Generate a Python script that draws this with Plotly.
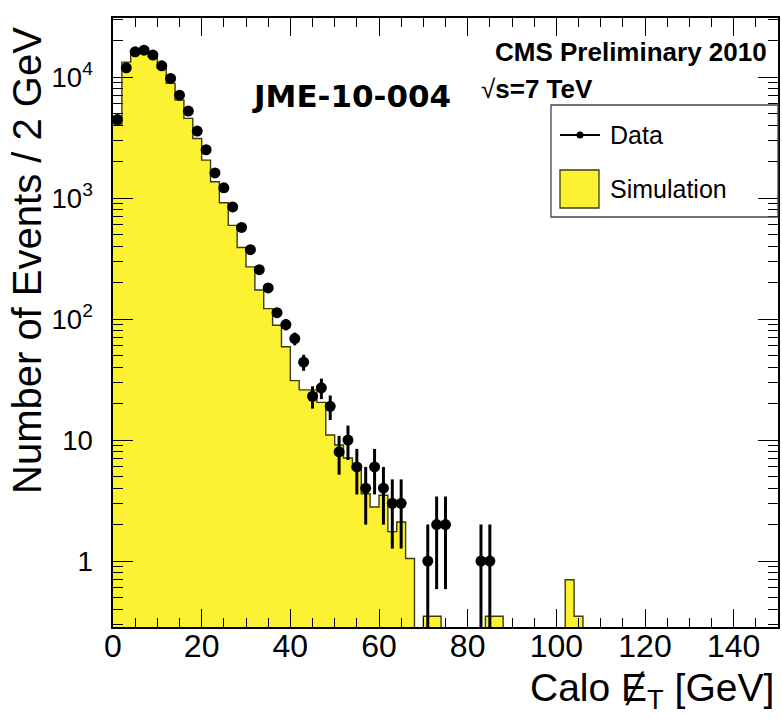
import numpy as np
import plotly.graph_objects as go

BIN_WIDTH = 2.0  # GeV per bin, first bin starts at 0

# Observed events per 2 GeV bin (bins 0-2, 2-4, ... ; trailing bins are empty)
data_counts = [4470, 11940, 16170, 16700, 15200, 12400, 9750, 7090, 5240, 3580,
               2510, 1615, 1215, 845, 572, 375, 256, 181, 113, 90,
               69, 44, 23, 27, 19, 8, 10, 6, 4, 6,
               4, 3, 3, 0, 0, 1, 2, 2, 0, 0,
               0, 1, 1]

# Simulated expectation per 2 GeV bin, normalised to data
sim_counts = [4100, 13300, 15800, 16400, 14700, 11800, 8870, 6460, 4560, 3110,
              2060, 1365, 915, 595, 391, 270, 174, 122, 89, 59,
              31, 26, 26, 20.5, 11, 9.1, 7.1, 5.8, 3.6, 2.8,
              3.5, 1.75, 2.1, 1.05, 0, 0.35, 0.35, 0, 0, 0,
              0, 0, 0.35, 0.35, 0, 0, 0, 0, 0, 0,
              0, 0.7, 0.35]

x_tick_vals = [0, 20, 40, 60, 80, 100, 120, 140]

X_MAX = 150.0
n_bins = int(X_MAX / BIN_WIDTH)
edges = np.arange(n_bins + 1) * BIN_WIDTH
centers = edges[:-1] + BIN_WIDTH / 2


def pad(values):
    out = np.zeros(n_bins)
    out[:len(values)] = values
    return out


sim = pad(sim_counts)
dat = pad(data_counts)

YELLOW = "#fdf232"
OUTLINE = "#3c3c10"
FONT = "Liberation Sans, Arial, Helvetica, sans-serif"

W, H = 782, 719
L, R, T, B = 113, 778, 18, 627


def px(xp):
    return (xp - L) / (R - L)


def py(yp):
    return (B - yp) / (B - T)


fig = go.Figure()

# Simulation: filled histogram
has_sim = sim > 0
fig.add_bar(x=centers[has_sim], y=sim[has_sim], width=BIN_WIDTH,
            marker=dict(color=YELLOW, line=dict(width=0)),
            showlegend=False, hoverinfo="skip")

# Simulation: step outline (empty bins drop below the visible range)
floor = 1e-3
sim_line = np.where(sim > 0, sim, floor)
fig.add_scatter(x=list(edges), y=list(sim_line) + [sim_line[-1]],
                mode="lines", line=dict(color=OUTLINE, width=1.4, shape="hv"),
                showlegend=False, hoverinfo="skip")

# Data points with Poisson errors
has_dat = dat > 0
n = dat[has_dat]
err = np.sqrt(n)
fig.add_scatter(x=centers[has_dat], y=n, mode="markers",
                marker=dict(color="black", size=11),
                error_y=dict(type="data", symmetric=False, array=err,
                             arrayminus=np.minimum(err, n * 0.999),
                             thickness=3, width=0, color="black"),
                showlegend=False)

shapes = [
    # legend box
    dict(type="rect", xref="paper", yref="paper",
         x0=px(551), x1=px(778), y0=py(217), y1=py(105),
         line=dict(color="#444444", width=1.3)),
    # Data entry: line with dot
    dict(type="line", xref="paper", yref="paper",
         x0=px(560), x1=px(600), y0=py(135), y1=py(135),
         line=dict(color="black", width=2)),
    dict(type="circle", xref="paper", yref="paper",
         x0=px(576.5), x1=px(583.5), y0=py(138.5), y1=py(131.5),
         fillcolor="black", line=dict(color="black", width=0)),
    # Simulation entry: filled box
    dict(type="rect", xref="paper", yref="paper",
         x0=px(560), x1=px(599), y0=py(208), y1=py(170),
         fillcolor=YELLOW, line=dict(color=OUTLINE, width=1.3)),
]

annotations = [
    dict(text="Data", x=px(608), y=py(135), xanchor="left", yanchor="middle",
         font=dict(family=FONT, size=25, color="black")),
    dict(text="Simulation", x=px(608), y=py(189), xanchor="left", yanchor="middle",
         font=dict(family=FONT, size=25, color="black")),
    dict(text="<b>CMS Preliminary 2010</b>", x=px(769), y=py(52),
         xanchor="right", yanchor="middle",
         font=dict(family=FONT, size=26, color="black")),
    dict(text="√<b>s=7 TeV</b>", x=px(479), y=py(89),
         xanchor="left", yanchor="middle",
         font=dict(family=FONT, size=26, color="black")),
    dict(text="<b>JME-10-004</b>", x=px(351), y=py(96),
         xanchor="center", yanchor="middle",
         font=dict(family="DejaVu Sans, sans-serif", size=31, color="black")),
    dict(text="Number of Events / 2 GeV", x=px(27), y=py(261), textangle=-90,
         xanchor="center", yanchor="middle",
         font=dict(family=FONT, size=40, color="black")),
    dict(text="Calo \u0246<sub>T</sub> [GeV]", x=px(776), y=py(690),
         xanchor="right", yanchor="middle",
         font=dict(family=FONT, size=39, color="black")),
]
for a in annotations:
    a.update(xref="paper", yref="paper", showarrow=False)

fig.update_layout(
    width=W, height=H,
    margin=dict(l=L, r=W - R, t=T, b=H - B, autoexpand=False),
    paper_bgcolor="white", plot_bgcolor="white",
    bargap=0, showlegend=False,
    shapes=shapes, annotations=annotations,
    font=dict(family=FONT, color="black"),
)

fig.update_xaxes(
    range=[0, X_MAX], tickmode="array", tickvals=x_tick_vals,
    ticks="inside", ticklen=18, tickwidth=1.3, tickcolor="black",
    minor=dict(dtick=5, tick0=0, ticks="inside", ticklen=9, tickwidth=1.3,
               tickcolor="black", showgrid=False),
    showline=True, linecolor="black", linewidth=1.5, mirror="allticks",
    showgrid=False, zeroline=False,
    tickfont=dict(family=FONT, size=32, color="black"), ticklabelstandoff=-10,
)

fig.update_yaxes(
    type="log", range=[np.log10(0.285), np.log10(30800)],
    tickmode="linear", tick0=0, dtick=1, exponentformat="power",
    ticks="inside", ticklen=20, tickwidth=1.3, tickcolor="black",
    minor=dict(dtick="D1", ticks="inside", ticklen=10, tickwidth=1.3,
               tickcolor="black", showgrid=False),
    showline=True, linecolor="black", linewidth=1.5, mirror="allticks",
    showgrid=False, zeroline=False,
    tickfont=dict(family=FONT, size=22, color="black"), ticklabelstandoff=14,
)

fig.write_html("out.html")
